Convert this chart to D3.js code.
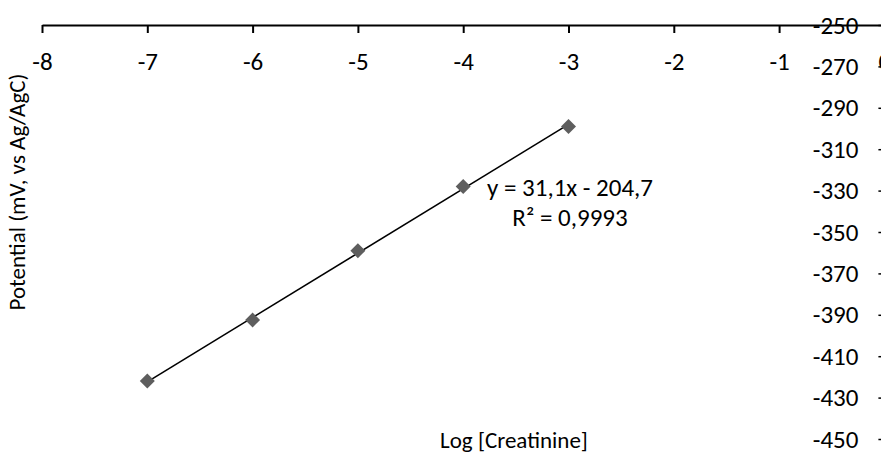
<!DOCTYPE html>
<html>
<head>
<meta charset="utf-8">
<script src="https://cdn.jsdelivr.net/npm/d3@7"></script>
<style>
  html, body { margin: 0; padding: 0; background: #fff; }
  svg { display: block; }
  text { font-family: Carlito, Calibri, Lato, "Open Sans", sans-serif; fill: #000; }
</style>
</head>
<body>
<svg id="chart" width="881" height="458"></svg>
<script>
// Calibration data: electrode potential vs log concentration
const logConc = [-7, -6, -5, -4, -3];
const potential = [-422, -392.5, -359, -328, -299];

// Linear fit as reported on the chart
const slope = 31.1;
const intercept = -204.7;
const rSquared = "0,9993";

const xTicks = [-8, -7, -6, -5, -4, -3, -2, -1, 0];
const yTicks = [-250, -270, -290, -310, -330, -350, -370, -390, -410, -430, -450];

const xTitle = "Log [Creatinine]";
const yTitle = "Potential (mV, vs Ag/AgC)";

const fmt = v => String(v).replace(".", ",");

const svg = d3.select("#chart");
const fontSize = 25;

const x = d3.scaleLinear().domain([-8, 0]).range([42, 884.4]);
const y = d3.scaleLinear().domain([-250, -450]).range([25, 439]);

// Horizontal axis sits at the top (y = -250), labels below the line
const gx = svg.append("g")
  .attr("transform", `translate(0,${y(-250)})`)
  .call(d3.axisBottom(x).tickValues(xTicks).tickSize(8).tickSizeOuter(0)
    .tickPadding(19).tickFormat(d => d));
gx.select(".domain").attr("stroke", "#000").attr("stroke-width", 2);
gx.selectAll(".tick line").attr("stroke", "#000").attr("stroke-width", 2);
gx.selectAll(".tick text").attr("font-size", fontSize).attr("fill", "#000")
  .attr("font-family", null);

// Vertical axis crosses at x = 0, labels on its left
const gy = svg.append("g")
  .attr("transform", `translate(${x(0)},0)`)
  .call(d3.axisLeft(y).tickValues(yTicks).tickSize(6).tickSizeOuter(0)
    .tickPadding(20).tickFormat(d => d));
gy.select(".domain").attr("stroke", "#000").attr("stroke-width", 2);
gy.selectAll(".tick line").attr("stroke", "#000").attr("stroke-width", 1.5);
gy.selectAll(".tick text").attr("font-size", fontSize).attr("fill", "#000")
  .attr("font-family", null);

// Trendline over the measured range
const fitX = d3.extent(logConc);
svg.append("line")
  .attr("x1", x(fitX[0])).attr("y1", y(slope * fitX[0] + intercept))
  .attr("x2", x(fitX[1])).attr("y2", y(slope * fitX[1] + intercept))
  .attr("stroke", "#000").attr("stroke-width", 1.6);

// Diamond markers
const diamond = r => `M0,${-r}L${r},0L0,${r}L${-r},0Z`;
svg.append("g").selectAll("path")
  .data(logConc.map((v, i) => [v, potential[i]]))
  .join("path")
  .attr("d", diamond(7.5))
  .attr("transform", d => `translate(${x(d[0])},${y(d[1])})`)
  .attr("fill", "#5e5e5e");

// Trendline equation
const eq = svg.append("text")
  .attr("text-anchor", "middle")
  .attr("font-size", fontSize);
eq.append("tspan").attr("x", 570).attr("y", 196)
  .text(`y = ${fmt(slope)}x - ${fmt(Math.abs(intercept))}`);
eq.append("tspan").attr("x", 570).attr("y", 226)
  .text(`R² = ${rSquared}`);

// Axis titles
svg.append("text")
  .attr("x", 514).attr("y", 448)
  .attr("text-anchor", "middle")
  .attr("font-size", 23)
  .text(xTitle);

svg.append("text")
  .attr("transform", "translate(25,192) rotate(-90)")
  .attr("text-anchor", "middle")
  .attr("font-size", 23)
  .text(yTitle);
</script>
</body>
</html>
